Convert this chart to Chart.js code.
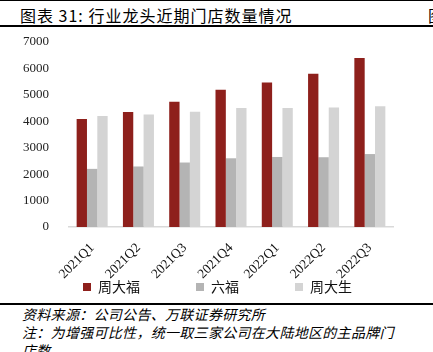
<!DOCTYPE html>
<html>
<head>
<meta charset="utf-8">
<script src="https://cdn.jsdelivr.net/npm/chart.js@4/dist/chart.umd.min.js"></script>
<style>
  html, body { margin:0; padding:0; background:#fff; }
  body { width:433px; height:352px; position:relative; overflow:hidden; }
  .abs { position:absolute; }
  .rule { position:absolute; left:0; width:433px; background:#000; }
  #title { left:20px; top:4px; font-size:16px; line-height:22px; font-family:"Noto Sans CJK SC", sans-serif; color:#000; letter-spacing:1px; white-space:nowrap; }
  .foot { left:22px; font-size:14px; line-height:18px; font-family:"Noto Sans CJK SC", sans-serif; font-style:italic; color:#000; letter-spacing:0.3px; white-space:nowrap; }
  #chartBox { position:absolute; left:0; top:30px; width:433px; height:272px; }
</style>
</head>
<body>
<div class="rule" style="top:0;height:1px;"></div>
<div id="title" class="abs">图表 31: 行业龙头近期门店数量情况</div>
<div class="abs" style="left:428px;top:4px;font-size:16px;line-height:22px;font-family:'Noto Sans CJK SC';">图</div>
<div class="rule" style="top:25px;height:2px;"></div>
<div id="chartBox"><canvas id="c" width="433" height="272"></canvas></div>
<div class="rule" style="top:303px;height:2px;"></div>
<div class="abs foot" style="top:305px;">资料来源：公司公告、万联证券研究所</div>
<div class="abs foot" style="top:323px;">注：为增强可比性，统一取三家公司在大陆地区的主品牌门</div>
<div class="abs foot" style="top:341px;">店数</div>
<script>
const categories = ["2021Q1","2021Q2","2021Q3","2021Q4","2022Q1","2022Q2","2022Q3"];
const seriesNames = ["周大福","六福","周大生"];
const chowTaiFook = [4090, 4350, 4740, 5190, 5470, 5800, 6390];
const lukFook = [2200, 2290, 2440, 2600, 2650, 2640, 2760];
const chowTaiSeng = [4200, 4260, 4360, 4500, 4500, 4520, 4570];
const yTicks = [0, 1000, 2000, 3000, 4000, 5000, 6000, 7000];

const colors = ["#8E201C", "#B4B4B4", "#D4D4D4"];
const serif = "'Liberation Serif', 'Times New Roman', serif";
const LEGEND_CENTER_Y = 257;
const LEGEND_FIRST_BOX_X = 83;
const CANVAS_W = 433;

const legendGap = {
  id: 'legendGap',
  beforeLayout(chart) {
    const lg = chart.legend;
    if (lg && !lg.__patched) {
      const fit = lg.fit;
      lg.fit = function () { fit.call(this); this.height = 15; };
      lg.__patched = true;
    }
  },
  afterLayout(chart) {
    const lg = chart.legend;
    if (!lg) return;
    const pad = lg.options.labels.padding;
    const fs = lg.options.labels.font.size;
    lg.top = LEGEND_CENTER_Y - pad - fs / 2;
    lg.bottom = LEGEND_CENTER_Y + fs;
    const lw = lg.lineWidths[0];
    lg.right = CANVAS_W;
    lg.left = 2 * LEGEND_FIRST_BOX_X - pad + lw - lg.right;
  }
};

new Chart(document.getElementById('c'), {
  type: 'bar',
  data: {
    labels: categories,
    datasets: [
      { label: seriesNames[0], data: chowTaiFook, backgroundColor: colors[0] },
      { label: seriesNames[1], data: lukFook, backgroundColor: colors[1] },
      { label: seriesNames[2], data: chowTaiSeng, backgroundColor: colors[2] }
    ]
  },
  options: {
    responsive: false,
    devicePixelRatio: 1,
    animation: false,
    layout: { padding: { left: 0, right: 40, top: 12, bottom: 0 } },
    datasets: { bar: { categoryPercentage: 0.67, barPercentage: 1.0, borderWidth: 0 } },
    scales: {
      x: {
        grid: { display: false },
        border: { display: true, color: '#D9D9D9', width: 1.5 },
        ticks: { font: { family: serif, size: 13.5 }, color: '#111', maxRotation: 45, minRotation: 45, padding: 5 },
        afterFit: (s) => { s.height = 60; }
      },
      y: {
        min: 0, max: 7000,
        grid: { display: false, drawTicks: true, tickLength: 16 },
        border: { display: false },
        afterBuildTicks: (s) => { s.ticks = yTicks.map(v => ({ value: v })); },
        ticks: { font: { family: serif, size: 13 }, color: '#222', padding: 4, callback: (v) => String(v) },
        afterFit: (s) => { s.width = 69; }
      }
    },
    plugins: {
      legend: {
        position: 'bottom',
        labels: {
          boxWidth: 8, boxHeight: 8, padding: 56,
          font: { family: "'Noto Sans CJK SC', sans-serif", size: 14 },
          color: '#111'
        }
      },
      tooltip: { enabled: false }
    }
  },
  plugins: [legendGap]
});
</script>
</body>
</html>
